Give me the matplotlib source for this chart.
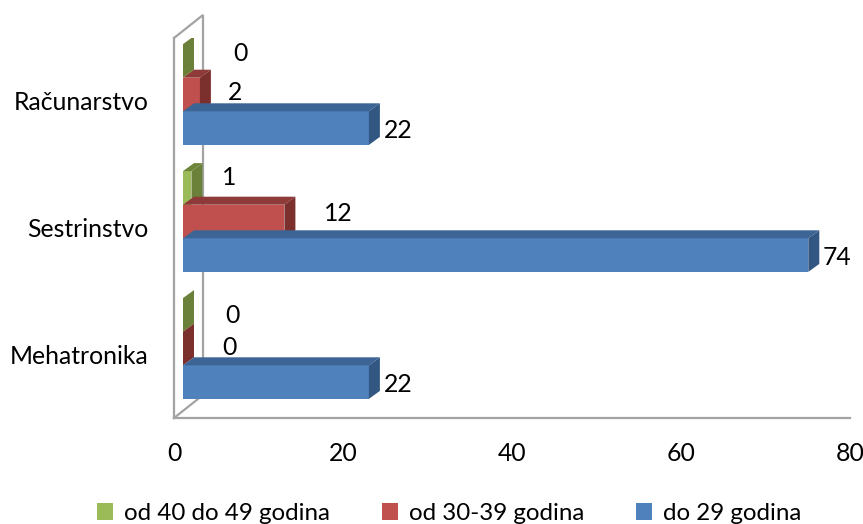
import matplotlib
matplotlib.use("Agg")
import matplotlib.pyplot as plt
from matplotlib.patches import Polygon, Patch

plt.rcParams['font.family'] = ['Lato', 'DejaVu Sans']

categories = ["Mehatronika", "Sestrinstvo", "Računarstvo"]
series_names = ["od 40 do 49 godina", "od 30-39 godina", "do 29 godina"]
values_40_49 = [0, 1, 0]
values_30_39 = [0, 12, 2]
values_do_29 = [22, 74, 22]
x_ticks = [0, 20, 40, 60, 80]

W, H = 863, 524
fig = plt.figure(figsize=(W / 100, H / 100), dpi=100)
L, R, T, B = 174, 850, 38, 418
ax = fig.add_axes([L / W, 1 - B / H, (R - L) / W, (B - T) / H])
PXY = 127.0
PXX = (R - L) / 80
ax.set_xlim(0, 80)
ax.set_ylim(-(418 - 348.5) / PXY, (348.5 - 38) / PXY)

GREY = "#a3a3a3"
FS = 17.8
BAR_H = 33.6 / PXY
DX, DY = 11 / PXX, 8 / PXY
X0 = 9 / PXX
WALL_DX, WALL_DY = 29 / PXX, 23 / PXY

# walls
y0, y1 = ax.get_ylim()
for s in ("top", "right"):
    ax.spines[s].set_visible(False)
for s in ("left", "bottom"):
    ax.spines[s].set_color(GREY)
    ax.spines[s].set_linewidth(1.6)
ax.plot([0, WALL_DX, WALL_DX], [y1, y1 + WALL_DY, y0 + WALL_DY], color=GREY, lw=1.6,
        clip_on=False, zorder=1, solid_joinstyle="miter")
ax.plot([0, WALL_DX], [y0, y0 + WALL_DY], color=GREY, lw=1.6, clip_on=False, zorder=1)

series = [
    (values_40_49, "#9BBB59", "#6E8539", "#6B8139", 1),
    (values_30_39, "#C0504D", "#8E3A38", "#7C302E", 0),
    (values_do_29, "#4F81BD", "#3C6494", "#335783", -1),
]

# pixel offsets of the value labels (dx from bar end, dy up from bar centre)
label_offsets = [
    [(49, -1), (38, 10), (57, 7)],
    [(46, 1), (54, 8), (35, 2)],
    [(29, -2), (29, -2.5), (29, -2)],
]

z = 2
for c in range(2, -1, -1):
    for (vals, front, top, side, pos), offs in zip(series, label_offsets):
        v = vals[c]
        yc = c + pos * BAR_H
        yb, yt = yc - BAR_H / 2, yc + BAR_H / 2
        x1 = X0 + v
        ax.barh(yc, v, height=BAR_H, left=X0, color=front, edgecolor="none", zorder=z)
        ax.add_patch(Polygon([(X0, yt), (X0 + DX, yt + DY), (x1 + DX, yt + DY), (x1, yt)],
                             closed=True, facecolor=top, edgecolor="none", zorder=z))
        ax.add_patch(Polygon([(x1, yb), (x1 + DX, yb + DY), (x1 + DX, yt + DY), (x1, yt)],
                             closed=True, facecolor=side, edgecolor="none", zorder=z))
        z += 1
        ox, oy = offs[c]
        ax.annotate(str(v), xy=(x1, yc), xytext=(ox * 0.72, oy * 0.72),
                    textcoords="offset points", ha="center", va="center",
                    fontsize=FS, color="black", zorder=50)

ax.set_xticks(x_ticks)
ax.set_xticklabels([str(t) for t in x_ticks])
ax.set_yticks([c - 0.047 for c in range(3)])
ax.set_yticklabels(categories)
ax.tick_params(axis="x", length=0, pad=17, labelsize=FS)
ax.tick_params(axis="y", length=0, pad=18.5, labelsize=FS)

handles = [Patch(facecolor=s[1], edgecolor="none") for s in series]
fig.legend(handles, series_names, ncol=3, frameon=False, loc="center left",
           bbox_to_anchor=(97 / W, 1 - 513.5 / H), fontsize=17.4,
           handlelength=0.66, handleheight=0.66, handletextpad=0.45,
           columnspacing=2.15, borderpad=0, borderaxespad=0)

fig.savefig("out.png", dpi=100)
